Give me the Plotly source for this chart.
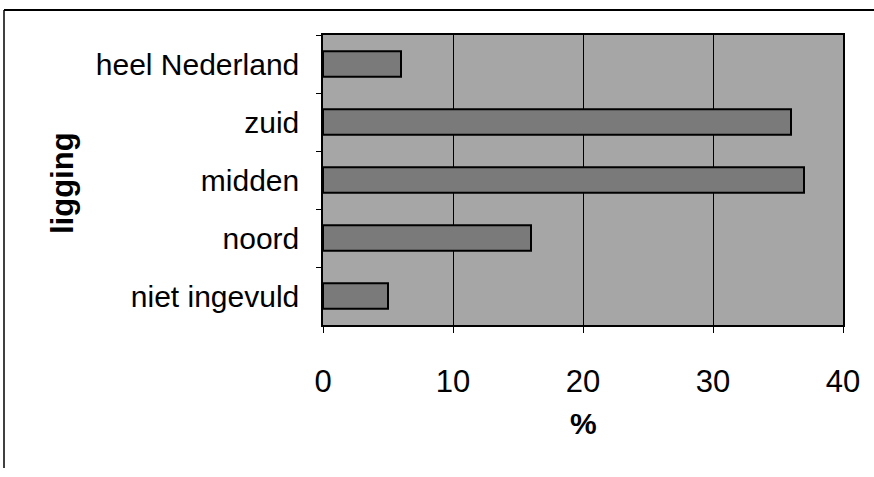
import plotly.graph_objects as go

categories = ["heel Nederland", "zuid", "midden", "noord", "niet ingevuld"]
values = [6, 36, 37, 16, 5]
x_ticks = [0, 10, 20, 30, 40]

W, H = 874, 477
L, R, T, B = 323, 31, 35, 152
pw, ph = W - L - R, H - T - B

def px(x):
    return (x - L) / pw

def py(y):
    return (H - B - y) / ph

font = "Liberation Sans, Arial, sans-serif"

fig = go.Figure(go.Bar(
    x=values, y=categories, orientation="h",
    marker=dict(color="#7a7a7a", line=dict(color="black", width=2)),
))

fig.update_layout(
    width=W, height=H,
    margin=dict(l=L, r=R, t=T, b=B),
    paper_bgcolor="white", plot_bgcolor="#a6a6a6",
    bargap=0.56, showlegend=False,
    font=dict(family=font, size=30, color="black"),
)
fig.update_xaxes(
    range=[0, 40], tickvals=x_ticks, ticktext=[str(v) for v in x_ticks],
    showgrid=True, gridcolor="black", gridwidth=1,
    showline=True, linecolor="black", linewidth=1.5, mirror=True,
    ticks="outside", ticklen=6, tickcolor="black", tickwidth=1,
    ticklabelstandoff=22, zeroline=False,
    tickfont=dict(size=31, family=font),
)
fig.update_yaxes(
    autorange="reversed", type="category",
    showgrid=False,
    showline=True, linecolor="black", linewidth=1.5, mirror=True,
    ticks="outside", ticklen=5, tickcolor="black", tickwidth=1,
    tickson="boundaries", ticklabelstandoff=16,
    tickfont=dict(size=30, family=font),
)

fig.add_annotation(text="<b>ligging</b>", xref="paper", yref="paper",
                   x=px(62), y=py(183), textangle=-90, showarrow=False,
                   xanchor="center", yanchor="middle",
                   font=dict(size=31, family=font))
fig.add_annotation(text="<b>%</b>", xref="paper", yref="paper",
                   x=px(583), y=py(423), showarrow=False,
                   xanchor="center", yanchor="middle",
                   font=dict(size=30, family=font))

# outer frame (top and left)
fig.add_shape(type="line", xref="paper", yref="paper",
              x0=px(4), x1=px(874), y0=py(10), y1=py(10),
              line=dict(color="black", width=2))
fig.add_shape(type="line", xref="paper", yref="paper",
              x0=px(4), x1=px(4), y0=py(10), y1=py(468),
              line=dict(color="black", width=1.5))

fig.write_html("out.html")
